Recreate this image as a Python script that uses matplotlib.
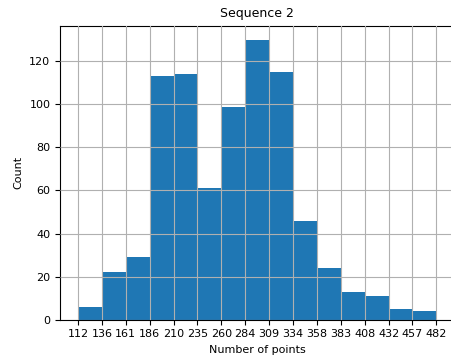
import numpy as np
import matplotlib
matplotlib.use("Agg")
import matplotlib.pyplot as plt

# histogram of point counts, 15 equal bins between min and max
lo, hi, n_bins = 112, 482, 15
counts = [6, 22, 29, 113, 114, 61, 99, 130, 115, 46, 24, 13, 11, 5, 4]
edges = np.linspace(lo, hi, n_bins + 1)
tick_labels = [str(int(e)) for e in edges]

fig = plt.figure(figsize=(4.52, 3.58), dpi=100)
# axes runs slightly past the right edge of the canvas
ax = fig.add_axes([0.133, 0.107, 0.872, 0.821])

ax.hist(edges[:-1], bins=edges, weights=counts, color="#1f77b4")
ax.grid(True, color="#b0b0b0", linewidth=0.8)
ax.set_axisbelow(False)
ax.spines["right"].set_visible(False)

ax.set_ylim(0, 136.5)
ax.set_xticks(edges)
ax.set_xticklabels(tick_labels)
ax.tick_params(axis="both", labelsize=8)
ax.set_xlabel("Number of points", fontsize=8)
ax.set_ylabel("Count", fontsize=8)
ax.set_title("Sequence 2", fontsize=9)

fig.savefig("out.png", dpi=100)
